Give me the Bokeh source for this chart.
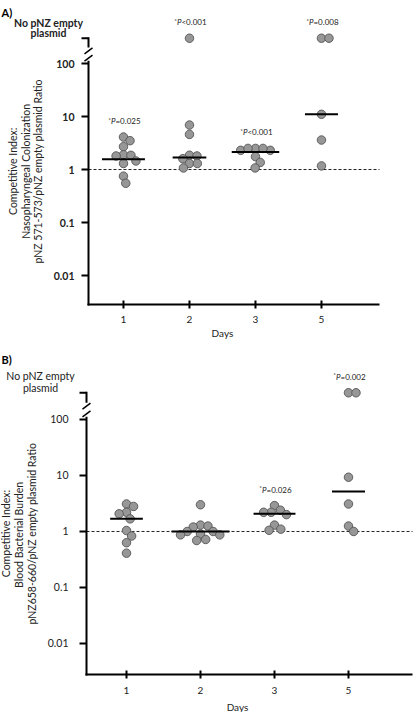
import numpy as np
from bokeh.plotting import figure
from bokeh.layouts import column
from bokeh.models import Range1d, ColumnDataSource
from bokeh.core.properties import value
from bokeh.embed import file_html
from bokeh.resources import INLINE

FONT = "Lato"
INK = "#222222"

# ---------------- data ----------------
days = ["1", "2", "3", "5"]
y_ticks = [0.01, 0.1, 1, 10, 100]
y_tick_labels = ["0.01", "0.1", "1", "10", "100"]
no_empty_value = 300          # plotted level of the "No pNZ empty plasmid" category
no_empty_label = ["No pNZ empty", "plasmid"]

# Panel A: nasopharyngeal colonization
a_day1 = [4.1, 3.5, 2.7, 1.9, 1.85, 1.8, 1.45, 1.3, 0.75, 0.55]
a_day2 = [300, 6.9, 4.6, 1.86, 1.8, 1.6, 1.3, 1.3, 1.07]
a_day3 = [2.5, 2.3, 2.5, 2.3, 2.5, 1.75, 1.36, 1.07]
a_day5 = [300, 300, 11, 3.6, 1.17]
a_median = [1.57, 1.68, 2.15, 11]
a_pvalue = ["=0.025", "<0.001", "<0.001", "=0.008"]
a_title = ["Competitive Index:", "Nasopharyngeal Colonization",
           "pNZ 571-573/pNZ empty plasmid Ratio"]

# Panel B: blood bacterial burden
b_day1 = [3.1, 2.8, 2.2, 2.07, 1.68, 1.04, 0.83, 0.63, 0.41]
b_day2 = [3.0, 1.3, 1.25, 1.2, 1.0, 1.0, 0.9, 0.87, 0.87, 0.72, 0.69]
b_day3 = [2.9, 2.4, 2.2, 2.2, 2.0, 1.3, 1.1, 1.05]
b_day5 = [300, 300, 9.3, 3.1, 1.25, 1.0]
b_median = [1.68, 1.0, 2.07, 5.2]
b_pvalue = [None, None, "=0.026", "=0.002"]
b_title = ["Competitive Index:", "Blood  Bacterial Burden",
           "pNZ658-660/pNZ empty plasmid Ratio"]


def swarm(vals, dec_px, diam):
    """simple beeswarm offsets (pixels)"""
    ys = [np.log10(v) * dec_px for v in vals]
    order = sorted(range(len(vals)), key=lambda i: -vals[i])
    placed = []
    offs = [0.0] * len(vals)
    for i in order:
        y = ys[i]
        cands = [0.0]
        for xj, yj in placed:
            dy = abs(y - yj)
            if dy < diam:
                dx = float(np.sqrt(diam ** 2 - dy ** 2))
                cands += [xj + dx, xj - dx]
        cands.sort(key=lambda c: (round(abs(c), 6), -c))
        for c in cands:
            if all((c - xj) ** 2 + (y - yj) ** 2 >= diam ** 2 - 1e-6 for xj, yj in placed):
                offs[i] = c
                break
        placed.append((offs[i], y))
    return offs


def txt(p, x, y, text, **kw):
    data = dict(x=list(x), y=list(y), t=list(text))
    opts = dict(text_font=value(FONT), text_color=INK, text_baseline="middle")
    for k, v in kw.items():
        if isinstance(v, (list, tuple)):
            data[k] = list(v)
            opts[k] = k
        else:
            opts[k] = v
    p.text(x="x", y="y", text="t", source=ColumnDataSource(data), **opts)


def build_panel(groups, medians, pvalues, titles, tag, g, bold):
    w, h = g["size"]
    cx, cy = g["corner"]            # pixel position (from top-left) of the axes corner
    ppu, dec = g["ppu"], g["dec"]   # pixels per category step / per decade
    xa0, xa1 = g["x_axis"]          # x extent of the drawn x axis (category units)
    la0 = g["log_axis0"]            # log10 value at the x axis
    xs0 = xa0 - cx / ppu
    ls0 = la0 - (h - cy) / dec
    y_bot = 10 ** la0

    p = figure(width=w, height=h, output_backend="svg", toolbar_location=None,
               y_axis_type="log", x_axis_location=None, y_axis_location=None,
               x_range=Range1d(xs0, xs0 + w / ppu),
               y_range=Range1d(10 ** ls0, 10 ** (ls0 + h / dec)),
               min_border=0, min_border_left=0, min_border_right=0,
               min_border_top=0, min_border_bottom=0)
    p.outline_line_color = None
    p.grid.visible = False
    p.background_fill_color = "white"
    p.border_fill_color = "white"

    def ly(v, px):       # value shifted by px pixels upward on the log scale
        return v * 10 ** (px / dec)

    # dashed reference line at ratio 1
    p.segment(x0=[xa0], y0=[1], x1=[xa1], y1=[1], line_color=INK, line_width=1,
              line_dash="3 2")

    # x axis
    p.segment(x0=[xa0 - 1 / ppu], y0=[y_bot], x1=[xa1], y1=[y_bot],
              line_color="black", line_width=2)
    cats = list(range(len(days)))
    p.segment(x0=cats, y0=[ly(y_bot, -4)] * len(cats), x1=cats, y1=[ly(y_bot, 4)] * len(cats),
              line_color="black", line_width=2)
    txt(p, cats, [y_bot] * len(cats), days, y_offset=g["xlab_off"], text_align="center",
        text_font_size="10px")
    txt(p, [(len(days) - 1) / 2], [y_bot], ["Days"], y_offset=g["days_off"],
        text_align="center", text_font_size="10px")

    # y axis with break
    brk_lo, brk_hi = 10 ** 2.05, 10 ** 2.3
    p.segment(x0=[xa0, xa0], y0=[ly(y_bot, -1), brk_hi], x1=[xa0, xa0],
              y1=[brk_lo, ly(no_empty_value, 1)], line_color="black", line_width=2)
    for L in (10 ** 2.1, 10 ** 2.24):
        p.segment(x0=[xa0 - 4 / ppu], y0=[ly(L, -3)], x1=[xa0 + 4 / ppu], y1=[ly(L, 3)],
                  line_color="black", line_width=1.5)
    yt = y_ticks + [no_empty_value]
    p.segment(x0=[xa0 - 7 / ppu] * len(yt), y0=yt, x1=[xa0] * len(yt), y1=yt,
              line_color="black", line_width=2)
    txt(p, [xa0] * len(y_ticks), y_ticks, y_tick_labels, x_offset=g["ylab_off"],
        text_align="right", text_font_size="10.5px",
        text_font_style="bold" if bold else "normal")
    txt(p, [xa0] * 2, [no_empty_value] * 2, no_empty_label, x_offset=g["ne_x"],
        y_offset=g["ne_y"], text_align="center", text_font_size="10.5px",
        text_font_style="bold" if bold else "normal")

    # rotated y title
    y_mid = 10 ** ((la0 + np.log10(no_empty_value)) / 2)
    txt(p, [xa0] * len(titles), [y_mid] * len(titles), titles, x_offset=g["title_x"],
        angle=np.pi / 2, text_align="center", text_font_size="10.5px")

    # panel tag
    txt(p, [xs0], [10 ** (ls0 + h / dec)], [tag], x_offset=1, y_offset=g["tag_y"],
        text_align="left", text_baseline="top", text_font_size="11px",
        text_font_style="bold", text_color="black")

    # data points
    xs, ys, seg = [], [], {"x0": [], "x1": [], "y": []}
    for i, vals in enumerate(groups):
        offs = swarm(vals, dec, 7.5)
        xs += [i + o / ppu for o in offs]
        ys += list(vals)
        half = max(abs(o) for o in offs) + 9
        seg["x0"].append(i - half / ppu)
        seg["x1"].append(i + half / ppu)
        seg["y"].append(medians[i])
    p.scatter(xs, ys, size=8.5, fill_color="#979797", line_color="#555555", line_width=0.9)
    p.segment(x0="x0", y0="y", x1="x1", y1="y", source=ColumnDataSource(seg),
              line_color="black", line_width=2)

    # p-value annotations
    ax, ay, at = [], [], []
    for i, pv in enumerate(pvalues):
        if pv:
            ax.append(i)
            ay.append(max(groups[i]))
            at.append(pv)
    txt(p, ax, ay, ["*"] * len(ax), x_offset=-12.5, y_offset=-18, text_align="right",
        text_font_size="6.5px")
    txt(p, ax, ay, ["P"] * len(ax), x_offset=-8, y_offset=-16, text_align="right",
        text_font_size="8px", text_font_style="italic")
    txt(p, ax, ay, at, x_offset=-8, y_offset=-16, text_align="left", text_font_size="8px")
    return p


geo_a = dict(size=(416, 352), corner=(88, 304), ppu=66, dec=53, x_axis=(-0.530, 3.879),
             log_axis0=-2.547, xlab_off=15, days_off=28, ylab_off=-14,
             ne_x=-40, ne_y=[-15, -5], title_x=[-76, -63, -50.5], tag_y=5)
geo_b = dict(size=(416, 360), corner=(86, 322), ppu=74, dec=56, x_axis=(-0.5405, 3.865),
             log_axis0=-2.554, xlab_off=16, days_off=32, ylab_off=-18,
             ne_x=-46, ne_y=[-17, -5], title_x=[-81, -68, -55], tag_y=0)

pa = build_panel([a_day1, a_day2, a_day3, a_day5], a_median, a_pvalue, a_title, "A)", geo_a, True)
pb = build_panel([b_day1, b_day2, b_day3, b_day5], b_median, b_pvalue, b_title, "B)", geo_b, False)

layout = column(pa, pb)
open("out.html", "w").write(file_html(layout, INLINE))
